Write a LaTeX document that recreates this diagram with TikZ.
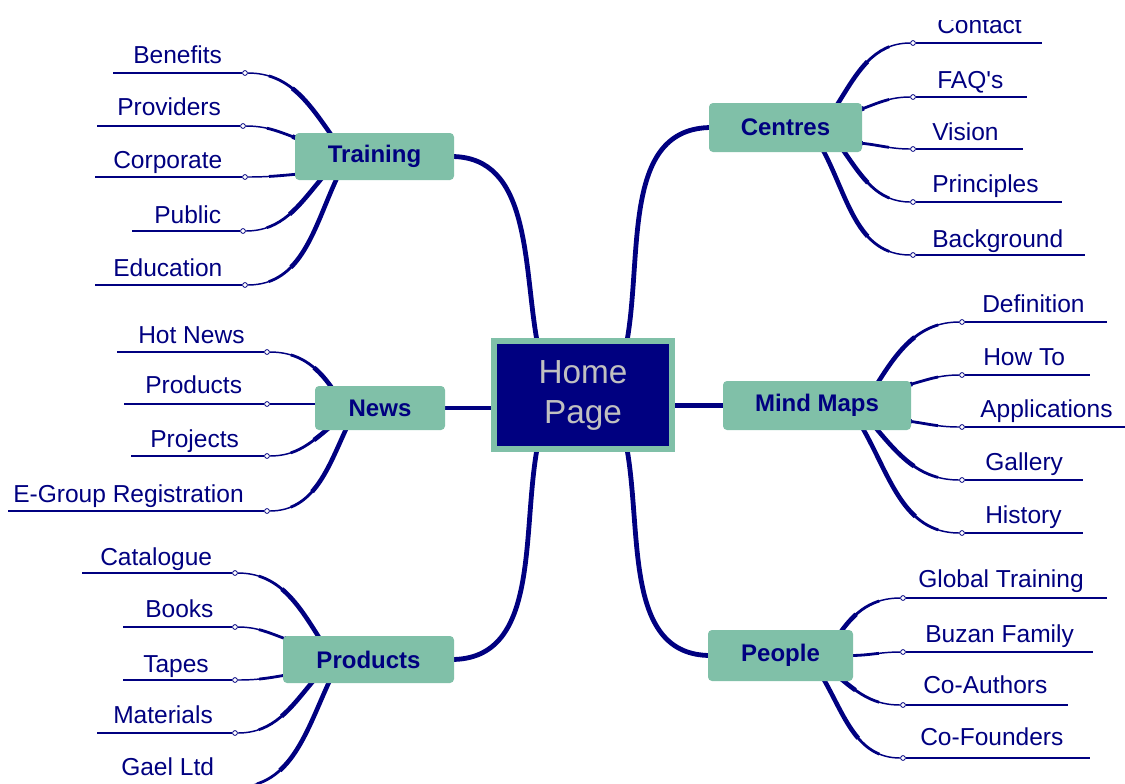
\documentclass[tikz,border=0pt]{standalone}
\usepackage{fontspec}
\setmainfont{Liberation Sans}
\usetikzlibrary{calc}
\definecolor{navy}{RGB}{0,0,128}
\definecolor{mmteal}{RGB}{128,192,168}
\definecolor{hpgray}{RGB}{192,192,192}
\pgfdeclarelayer{bg}
\pgfsetlayers{bg,main}
\begin{document}
\begin{tikzpicture}[x=0.75pt,y=0.75pt,
 box/.style={rectangle, rounded corners=3pt, fill=mmteal, text=navy, font=\fontsize{18}{20}\selectfont\bfseries, inner sep=0pt, minimum height=35.25pt},
 leaf/.style={anchor=base west, inner sep=0pt, text=navy, font=\fontsize{18.4}{20}\selectfont},
 dot/.style={circle, draw=navy, fill=white, line width=0.6pt, inner sep=0pt, minimum size=3.6pt},
 uline/.style={draw=navy, line width=1.1pt},
 uthick/.style={draw=navy, line width=2.2pt},
 twig/.style={draw=navy, line width=1.1pt,
   postaction={draw=navy, line cap=butt, line width=2.1pt, dash pattern=on 0pt off 16pt on 2000pt off 10pt},
   postaction={draw=navy, line cap=butt, line width=3.4pt, dash pattern=on 0pt off 36pt on 2000pt off 10pt}},
 limb/.style={draw=navy, line width=3.6pt},
]
\useasboundingbox (0,0) rectangle (1125,-783);

% central node
\node[draw=mmteal, fill=navy, line width=4.5pt, minimum width=133.5pt, minimum height=81pt, inner sep=0pt, align=center, text=hpgray, font=\fontsize{25}{30}\selectfont] (home) at (583,-395) {Home\\Page};

% branch boxes
\node[box, minimum width=119.25pt] (train) at (374.5,-156.5) {Training};
\node[box, minimum width=114.75pt, minimum height=36.75pt] (cent) at (785.5,-127.5) {Centres};
\node[box, minimum width=97.5pt, minimum height=33pt] (news) at (380,-408) {News};
\node[box, minimum width=141pt, minimum height=36.75pt] (mind) at (817,-405.5) {Mind Maps};
\node[box, minimum width=128.25pt] (prod) at (368.5,-659.5) {Products};
\node[box, minimum width=108.75pt, minimum height=38.25pt] (peop) at (780.5,-655.5) {People};

% Training leaves
\node[dot] (benD) at (245,-73) {};  \coordinate (benE) at (113,-73);  \node[leaf] (ben) at (133,-63) {Benefits};
\node[dot] (proD) at (243,-126) {}; \coordinate (proE) at (97,-126);  \node[leaf] (pro) at (117,-115) {Providers};
\node[dot] (corD) at (245,-177) {}; \coordinate (corE) at (95,-177);  \node[leaf] (cor) at (113,-168) {Corporate};
\node[dot] (pubD) at (243,-231) {}; \coordinate (pubE) at (132,-231); \node[leaf] (pub) at (154,-223) {Public};
\node[dot] (eduD) at (245,-285) {}; \coordinate (eduE) at (95,-285);  \node[leaf] (edu) at (113,-276) {Education};

% Centres leaves
\begin{scope}
\clip (900,-20) rectangle (1060,-60);
\node[leaf] (con) at (937,-33) {Contact};
\end{scope}
\node[dot] (conD) at (913,-43) {};  \coordinate (conE) at (1042,-43);
\node[dot] (faqD) at (913,-97) {};  \coordinate (faqE) at (1027,-97);  \node[leaf] (faq) at (937,-88) {FAQ\textquotesingle s};
\node[dot] (visD) at (913,-149) {}; \coordinate (visE) at (1023,-149); \node[leaf] (vis) at (932,-140) {Vision};
\node[dot] (priD) at (913,-202) {}; \coordinate (priE) at (1062,-202); \node[leaf] (pri) at (932,-192) {Principles};
\node[dot] (bacD) at (913,-255) {}; \coordinate (bacE) at (1085,-255); \node[leaf] (bac) at (932,-247) {Background};

% News leaves
\node[dot] (hotD) at (267,-352) {}; \coordinate (hotE) at (117,-352); \node[leaf] (hot) at (138,-343) {Hot News};
\node[dot] (nprD) at (267,-404) {}; \coordinate (nprE) at (124,-404); \node[leaf] (npr) at (145,-393) {Products};
\node[dot] (prjD) at (267,-456) {}; \coordinate (prjE) at (131,-456); \node[leaf] (prj) at (150,-447) {Projects};
\node[dot] (egrD) at (267,-511) {}; \coordinate (egrE) at (8,-511);   \node[leaf] (egr) at (13,-502) {E-Group Registration};

% Mind Maps leaves
\node[dot] (defD) at (962,-322) {}; \coordinate (defE) at (1107,-322); \node[leaf] (def) at (982,-312) {Definition};
\node[dot] (howD) at (962,-375) {}; \coordinate (howE) at (1090,-375); \node[leaf] (how) at (983,-365) {How To};
\node[dot] (appD) at (962,-427) {}; \coordinate (appE) at (1125,-427); \node[leaf] (app) at (980,-417) {Applications};
\node[dot] (galD) at (962,-480) {}; \coordinate (galE) at (1083,-480); \node[leaf] (gal) at (985,-470) {Gallery};
\node[dot] (hisD) at (962,-533) {}; \coordinate (hisE) at (1083,-533); \node[leaf] (his) at (985,-523) {History};

% Products leaves
\node[dot] (catD) at (235,-573) {}; \coordinate (catE) at (82,-573);  \node[leaf] (cat) at (100,-565) {Catalogue};
\node[dot] (booD) at (235,-627) {}; \coordinate (booE) at (123,-627); \node[leaf] (boo) at (145,-617) {Books};
\node[dot] (tapD) at (235,-680) {}; \coordinate (tapE) at (123,-680); \node[leaf] (tap) at (143,-672) {Tapes};
\node[dot] (matD) at (235,-733) {}; \coordinate (matE) at (97,-733);  \node[leaf] (mat) at (113,-723) {Materials};
\coordinate (gaeD) at (236,-787); \node[leaf] (gae) at (121,-775) {Gael Ltd};

% People leaves
\node[dot] (gloD) at (903,-598) {}; \coordinate (gloE) at (1107,-598); \node[leaf] (glo) at (918,-587) {Global Training};
\node[dot] (buzD) at (903,-652) {}; \coordinate (buzE) at (1093,-652); \node[leaf] (buz) at (925,-642) {Buzan Family};
\node[dot] (coaD) at (903,-705) {}; \coordinate (coaE) at (1068,-705); \node[leaf] (coa) at (923,-693) {Co-Authors};
\node[dot] (cofD) at (903,-758) {}; \coordinate (cofE) at (1090,-758); \node[leaf] (cof) at (920,-745) {Co-Founders};

\begin{pgfonlayer}{bg}
% main limbs
\draw[limb] ($(train.east)+(-3,0)$) to[out=0,in=100] ($(home.center)+(-46,54)$);
\draw[limb] ($(cent.west)+(3,0)$) to[out=180,in=80] ($(home.center)+(44,54)$);
\draw[limb] ($(prod.east)+(-3,0)$) to[out=0,in=-100] ($(home.center)+(-46,-54)$);
\draw[limb] ($(peop.west)+(3,0)$) to[out=180,in=-80] ($(home.center)+(44,-54)$);
\draw[limb] (news.east) -- (news.east -| home.west);
\draw[limb] (mind.west) -- (mind.west -| home.east);

% Training
\draw[uline] (benE) -- (benD);
\draw[uline] (proE) -- (proD);
\draw[uline] (corE) -- (corD);
\draw[uline] (pubE) -- (pubD);
\draw[uthick] (eduE) -- (eduD);
\draw[twig] (benD) to[out=0,in=125] ($(train.center)+(-42.5,20.5)$);
\draw[twig] (proD) to[out=0,in=160] ($(train.center)+(-75.5,17.5)$);
\draw[twig] (corD) to[out=0,in=185] ($(train.center)+(-75.5,-17.5)$);
\draw[twig] (pubD) to[out=0,in=230] ($(train.center)+(-52.5,-21.5)$);
\draw[twig] (eduD) to[out=0,in=245] ($(train.center)+(-37.5,-21.5)$);

% Centres
\draw[uline] (conD) -- (conE);
\draw[uline] (faqD) -- (faqE);
\draw[uline] (visD) -- (visE);
\draw[uthick] (priD) -- (priE);
\draw[uline] (bacD) -- (bacE);
\draw[twig] (conD) to[out=180,in=58] ($(cent.center)+(51.5,22.5)$);
\draw[twig] (faqD) to[out=180,in=20] ($(cent.center)+(73.5,17.5)$);
\draw[twig] (visD) to[out=180,in=-5] ($(cent.center)+(73.5,-15.5)$);
\draw[twig] (priD) to[out=180,in=-55] ($(cent.center)+(57.5,-22.5)$);
\draw[twig] (bacD) to[out=180,in=-62] ($(cent.center)+(37.5,-22.5)$);

% News
\draw[uline] (hotE) -- (hotD);
\draw[uline] (nprE) -- (nprD);
\draw[uthick] (prjE) -- (prjD);
\draw[uline] (egrE) -- (egrD);
\draw[twig] (hotD) to[out=0,in=125] ($(news.center)+(-48,20)$);
\draw[twig] (nprD) -- ($(news.center)+(-62,4)$);
\draw[twig] (prjD) to[out=0,in=220] ($(news.center)+(-50,-19)$);
\draw[twig] (egrD) to[out=0,in=245] ($(news.center)+(-33,-19)$);

% Mind Maps
\draw[uline] (defD) -- (defE);
\draw[uthick] (howD) -- (howE);
\draw[uline] (appD) -- (appE);
\draw[uline] (galD) -- (galE);
\draw[uline] (hisD) -- (hisE);
\draw[twig] (defD) to[out=180,in=58] ($(mind.center)+(60,21.5)$);
\draw[twig] (howD) to[out=180,in=15] ($(mind.center)+(91,20.5)$);
\draw[twig] (appD) to[out=180,in=-8] ($(mind.center)+(91,-15.5)$);
\draw[twig] (galD) to[out=180,in=-50] ($(mind.center)+(58,-21.5)$);
\draw[twig] (hisD) to[out=180,in=-60] ($(mind.center)+(45,-21.5)$);

% Products
\draw[uline] (catE) -- (catD);
\draw[uline] (booE) -- (booD);
\draw[uline] (tapE) -- (tapD);
\draw[uline] (matE) -- (matD);
\draw[twig] (catD) to[out=0,in=122] ($(prod.center)+(-48.5,20.5)$);
\draw[twig] (booD) to[out=0,in=160] ($(prod.center)+(-82.5,20.5)$);
\draw[twig] (tapD) to[out=0,in=190] ($(prod.center)+(-82.5,-15.5)$);
\draw[twig] (matD) to[out=0,in=230] ($(prod.center)+(-54.5,-20.5)$);
\draw[twig] (gaeD) to[out=0,in=245] ($(prod.center)+(-38.5,-20.5)$);

% People
\draw[uthick] (gloD) -- (gloE);
\draw[uline] (buzD) -- (buzE);
\draw[uthick] (coaD) -- (coaE);
\draw[uline] (cofD) -- (cofE);
\draw[twig] (gloD) to[out=180,in=55] ($(peop.center)+(59.5,22.5)$);
\draw[twig] (buzD) to[out=180,in=0] ($(peop.center)+(69.5,0)$);
\draw[twig] (coaD) to[out=180,in=-40] ($(peop.center)+(59.5,-22.5)$);
\draw[twig] (cofD) to[out=180,in=-60] ($(peop.center)+(42.5,-22.5)$);
\end{pgfonlayer}
\end{tikzpicture}
\end{document}
